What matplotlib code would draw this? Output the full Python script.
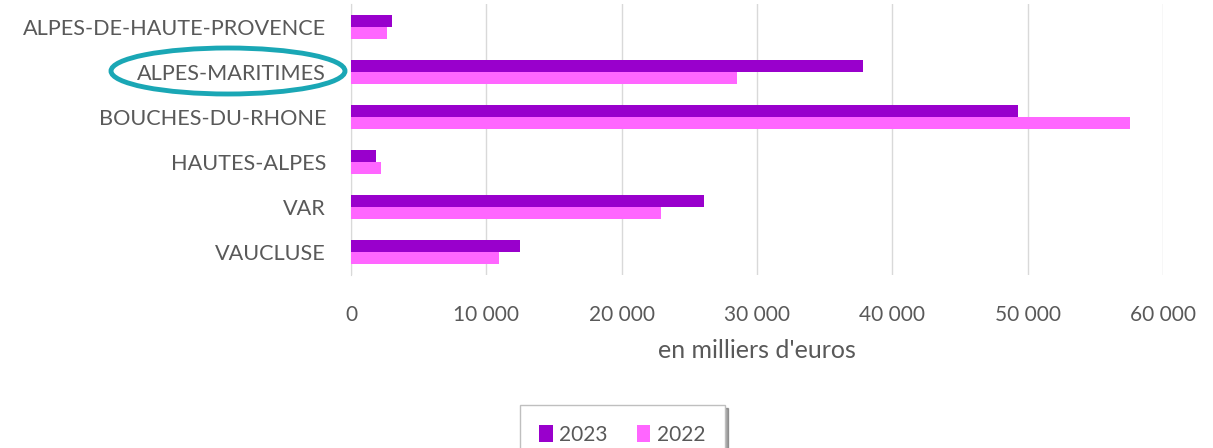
import matplotlib.pyplot as plt
from matplotlib.patches import Ellipse
from matplotlib.ticker import FuncFormatter

# departements, top to bottom
departements = ["ALPES-DE-HAUTE-PROVENCE", "ALPES-MARITIMES", "BOUCHES-DU-RHONE",
                "HAUTES-ALPES", "VAR", "VAUCLUSE"]
vals_2023 = [3050, 37800, 49300, 1850, 26100, 12450]
vals_2022 = [2650, 28500, 57550, 2250, 22900, 10900]

col_2023 = "#9900CC"
col_2022 = "#FF66FF"
grey = "#595959"

plt.rcParams['font.family'] = ['Lato', 'DejaVu Sans']

fig = plt.figure(figsize=(12.13, 4.48), dpi=100)
ax = fig.add_axes([0.2894, 0.387, 0.6694, 0.603])

pos = list(range(len(departements)))
h = 0.26
ax.barh([p - h / 2 for p in pos], vals_2023, height=h, color=col_2023, label="2023", zorder=3)
ax.barh([p + h / 2 for p in pos], vals_2022, height=h, color=col_2022, label="2022", zorder=3)

ax.set_ylim(len(departements) - 0.5, -0.5)
ax.set_xlim(0, 60000)
ax.set_yticks(pos)
ax.set_yticklabels(departements, fontsize=15.6, color=grey)
ax.set_xticks(range(0, 60001, 10000))
ax.xaxis.set_major_formatter(FuncFormatter(lambda v, p: f"{int(v):,}".replace(",", " ")))
ax.tick_params(axis='x', labelsize=15, labelcolor=grey, length=0, pad=22)
ax.tick_params(axis='y', length=0, pad=18)
ax.grid(axis='x', color="#D9D9D9", linewidth=1, zorder=0)
for s in ["top", "right", "bottom"]:
    ax.spines[s].set_visible(False)
ax.spines["left"].set_color("#D9D9D9")
ax.set_xlabel("en milliers d'euros", fontsize=18, color=grey, labelpad=10)

leg = fig.legend(loc="upper center", bbox_to_anchor=(0.513, 0.096), borderaxespad=0,
                 ncol=2, fontsize=15, frameon=True, shadow=True, fancybox=False,
                 handlelength=0.65, handleheight=0.9, handletextpad=0.3,
                 columnspacing=1.4, borderpad=0.95)
leg.get_frame().set_edgecolor("#BFBFBF")
for t in leg.get_texts():
    t.set_color(grey)

# highlight circle around ALPES-MARITIMES
ell = Ellipse((228 / 1213, 1 - 71 / 448), 234 / 1213, 46 / 448, transform=fig.transFigure,
              fill=False, edgecolor="#1AA7B5", linewidth=3.5)
fig.add_artist(ell)

fig.savefig("out.png", dpi=100)
